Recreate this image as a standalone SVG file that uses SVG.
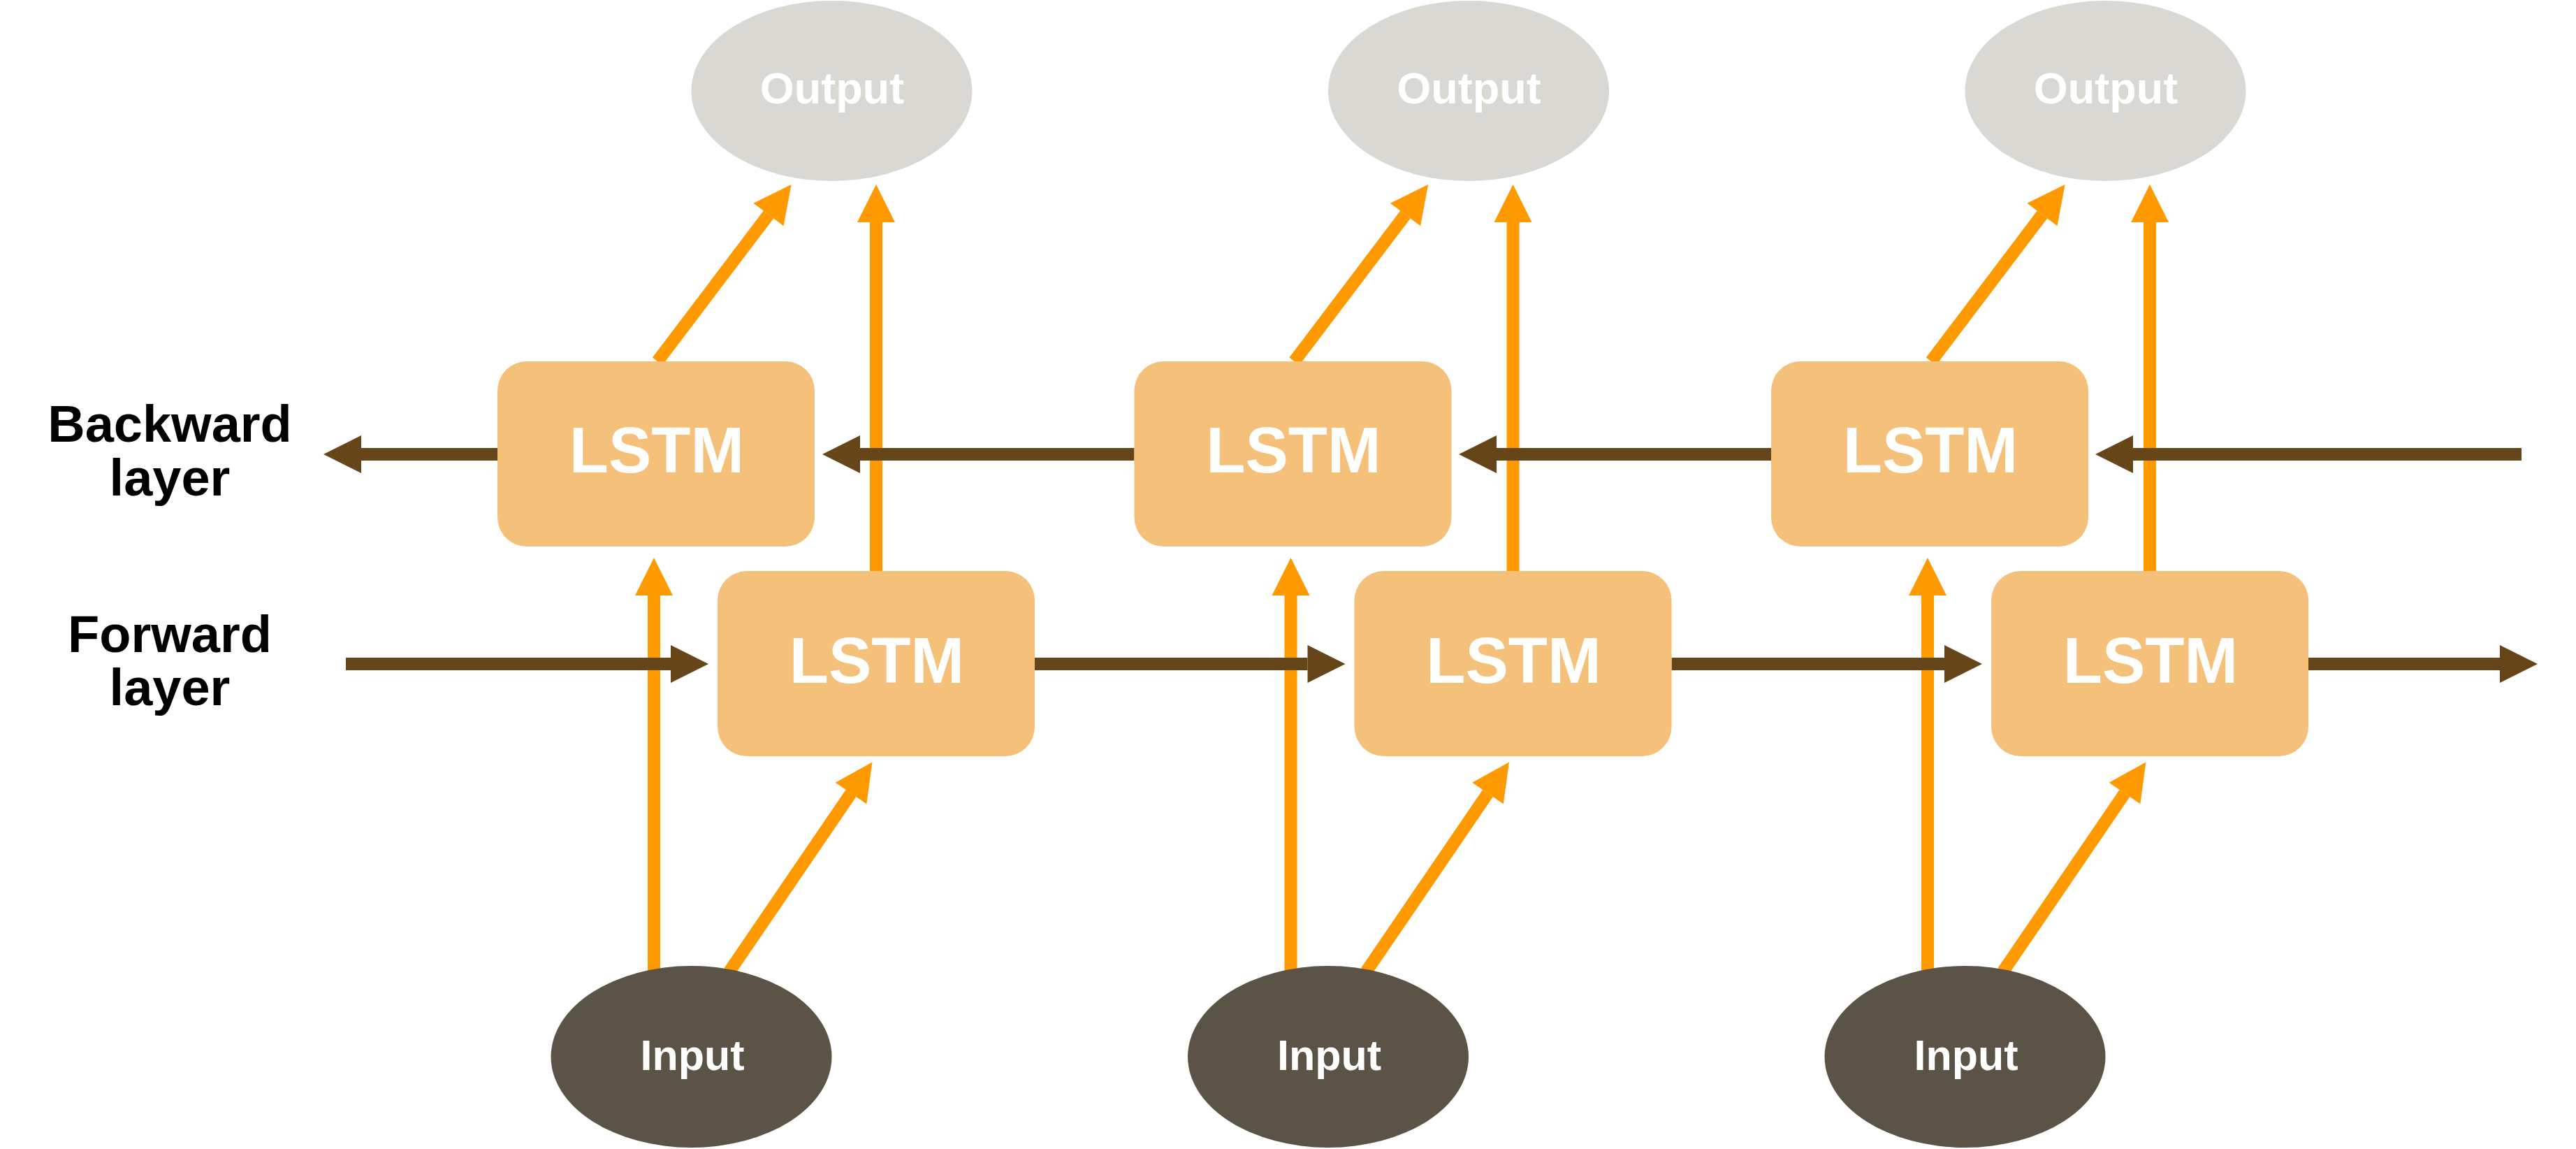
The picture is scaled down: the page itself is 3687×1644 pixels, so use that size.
<svg xmlns="http://www.w3.org/2000/svg" width="3687" height="1644" viewBox="0 0 3687 1644">
<defs>
<style>
.bg{fill:#ffffff}
.lstm{fill:#F4C07A}
.out{fill:#D9D8D3}
.inp{fill:#5A5346}
.o{stroke:#FF9900;stroke-width:18;fill:none;marker-end:url(#ah-o)}
.b{stroke:#664619;stroke-width:18;fill:none;marker-end:url(#ah-b)}
.t{font-family:"Liberation Sans",Arial,sans-serif;font-weight:bold;text-anchor:middle;fill:#ffffff}
.lt{font-size:92px}
.ot{font-size:63px}
.it{font-size:61px}
.lab{font-family:"Liberation Sans",Arial,sans-serif;font-weight:bold;text-anchor:middle;fill:#000000;font-size:74px}
</style>
<marker id="ah-o" markerUnits="userSpaceOnUse" markerWidth="54" markerHeight="54" refX="0" refY="27" orient="auto" overflow="visible">
<path d="M0,0 L54,27 L0,54 Z" fill="#FF9900"/>
</marker>
<marker id="ah-b" markerUnits="userSpaceOnUse" markerWidth="54" markerHeight="54" refX="0" refY="27" orient="auto" overflow="visible">
<path d="M0,0 L54,27 L0,54 Z" fill="#664619"/>
</marker>
</defs>
<rect class="bg" x="0" y="0" width="3687" height="1644"/>

<g id="connectors">
<!-- column 1 -->
<line class="o" x1="936" y1="1388" x2="936" y2="852"/>
<line class="o" x1="1044" y1="1390" x2="1218" y2="1135"/>
<line class="o" x1="1254" y1="817" x2="1254" y2="318"/>
<line class="o" x1="941" y1="517" x2="1100" y2="307"/>
<!-- column 2 -->
<line class="o" x1="1847.5" y1="1388" x2="1847.5" y2="852"/>
<line class="o" x1="1955.5" y1="1390" x2="2129.5" y2="1135"/>
<line class="o" x1="2165.5" y1="817" x2="2165.5" y2="318"/>
<line class="o" x1="1852.5" y1="517" x2="2011.5" y2="307"/>
<!-- column 3 -->
<line class="o" x1="2759" y1="1388" x2="2759" y2="852"/>
<line class="o" x1="2867" y1="1390" x2="3041" y2="1135"/>
<line class="o" x1="3077" y1="817" x2="3077" y2="318"/>
<line class="o" x1="2764" y1="517" x2="2923" y2="307"/>
<!-- backward layer -->
<line class="b" x1="3609" y1="650" x2="3053" y2="650"/>
<line class="b" x1="2535" y1="650" x2="2142" y2="650"/>
<line class="b" x1="1623.5" y1="650" x2="1231" y2="650"/>
<line class="b" x1="712" y1="650" x2="517" y2="650"/>
<!-- forward layer -->
<line class="b" x1="495" y1="950" x2="960" y2="950"/>
<line class="b" x1="1481" y1="950" x2="1871.5" y2="950"/>
<line class="b" x1="2392.5" y1="950" x2="2783" y2="950"/>
<line class="b" x1="3304" y1="950" x2="3578" y2="950"/>
</g>

<g id="label-backward">
<text class="lab" x="243" y="632">Backward</text>
<text class="lab" x="243" y="709">layer</text>
</g>
<g id="label-forward">
<text class="lab" x="243" y="933">Forward</text>
<text class="lab" x="243" y="1009">layer</text>
</g>

<g id="output1"><ellipse class="out" cx="1190.5" cy="130" rx="201" ry="129"/><text class="t ot" x="1191" y="148">Output</text></g>
<g id="output2"><ellipse class="out" cx="2102" cy="130" rx="201" ry="129"/><text class="t ot" x="2102.5" y="148">Output</text></g>
<g id="output3"><ellipse class="out" cx="3013.5" cy="130" rx="201" ry="129"/><text class="t ot" x="3014" y="148">Output</text></g>

<g id="backward1"><rect class="lstm" x="712" y="517" width="454" height="265" rx="42" ry="42"/><text class="t lt" x="940" y="676">LSTM</text></g>
<g id="backward2"><rect class="lstm" x="1623.5" y="517" width="454" height="265" rx="42" ry="42"/><text class="t lt" x="1851.5" y="676">LSTM</text></g>
<g id="backward3"><rect class="lstm" x="2535" y="517" width="454" height="265" rx="42" ry="42"/><text class="t lt" x="2763" y="676">LSTM</text></g>

<g id="forward1"><rect class="lstm" x="1027" y="817" width="454" height="265" rx="42" ry="42"/><text class="t lt" x="1255" y="977">LSTM</text></g>
<g id="forward2"><rect class="lstm" x="1938.5" y="817" width="454" height="265" rx="42" ry="42"/><text class="t lt" x="2166.5" y="977">LSTM</text></g>
<g id="forward3"><rect class="lstm" x="2850" y="817" width="454" height="265" rx="42" ry="42"/><text class="t lt" x="3078" y="977">LSTM</text></g>

<g id="input1"><ellipse class="inp" cx="989.5" cy="1512" rx="201" ry="130"/><text class="t it" x="991" y="1531">Input</text></g>
<g id="input2"><ellipse class="inp" cx="1901" cy="1512" rx="201" ry="130"/><text class="t it" x="1902.5" y="1531">Input</text></g>
<g id="input3"><ellipse class="inp" cx="2812.5" cy="1512" rx="201" ry="130"/><text class="t it" x="2814" y="1531">Input</text></g>
</svg>
